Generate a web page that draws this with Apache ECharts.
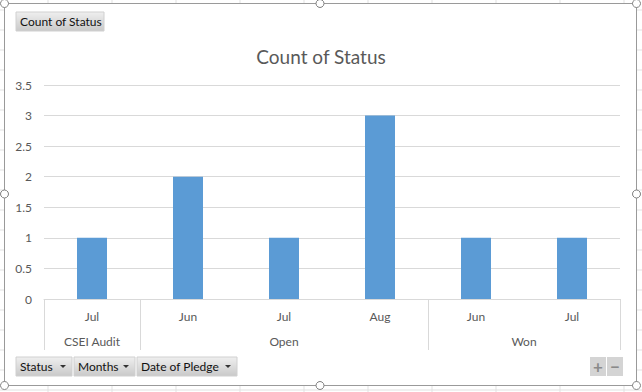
<!DOCTYPE html>
<html><head><meta charset="utf-8">
<script src="https://cdn.jsdelivr.net/npm/echarts@6/dist/echarts.min.js"></script>
<style>html,body{margin:0;padding:0;background:#fff}#c{width:642px;height:392px}</style>
</head><body><div id="c"></div>
<script>
const months = ['Jul', 'Jun', 'Jul', 'Aug', 'Jun', 'Jul'];
const counts = [1, 2, 1, 3, 1, 1];
const groups = ['CSEI Audit', 'Open', 'Won'];
const groupSpans = [1, 3, 2];
const yTicks = [0, 0.5, 1, 1.5, 2, 2.5, 3, 3.5];
const titleText = 'Count of Status';
const fieldButtons = ['Status', 'Months', 'Date of Pledge'];

// group boundaries and centres in category units
const bounds = [0];
groupSpans.forEach(s => bounds.push(bounds[bounds.length - 1] + s));
const centers = groups.map((g, i) => (bounds[i] + bounds[i + 1]) / 2);

const FONT = 'Lato, "Open Sans", sans-serif';
const TXT = '#595959';
const GRID = '#d9d9d9';

const chart = echarts.init(document.getElementById('c'), null, {renderer: 'svg'});

// decorations (sheet grid, chart frame, pivot buttons)
const g = [];
for (let x = 48; x < 642; x += 64) g.push({type: 'line', shape: {x1: x, y1: 0, x2: x, y2: 392}, style: {stroke: '#e1e1e1', lineWidth: 1}, z: -20});
for (let y = 10; y < 392; y += 20) g.push({type: 'line', shape: {x1: 0, y1: y, x2: 642, y2: y}, style: {stroke: '#e1e1e1', lineWidth: 1}, z: -20});
g.push({type: 'rect', shape: {x: 4.5, y: 3.5, width: 632, height: 382}, style: {fill: '#fff', stroke: '#9a9a9a', lineWidth: 1}, z: -10});
const grad = {type: 'linear', x: 0, y: 0, x2: 0, y2: 1, colorStops: [{offset: 0, color: '#efefef'}, {offset: 1, color: '#c9c9c9'}]};
function button(x, y, w, h, label, arrow) {
  g.push({type: 'rect', shape: {x: x, y: y, width: w, height: h}, style: {fill: grad, stroke: '#d0d0d0', lineWidth: 1}, z: 5});
  g.push({type: 'text', x: x + 4, y: y + h / 2, style: {text: label, fill: '#111', font: '12px ' + FONT, verticalAlign: 'middle'}, z: 6});
  if (arrow) g.push({type: 'polygon', shape: {points: [[x + w - 12, y + h / 2 - 1.5], [x + w - 6, y + h / 2 - 1.5], [x + w - 9, y + h / 2 + 1.5]]}, style: {fill: '#333'}, z: 6});
}
button(16, 12, 88, 19, titleText, false);
const bw = [56, 61, 100];
let bx = 16;
fieldButtons.forEach((b, i) => { button(bx, 357, bw[i], 19, b, true); bx += bw[i] + 2; });
g.push({type: 'rect', shape: {x: 590, y: 357, width: 16, height: 19}, style: {fill: '#d4d4d4'}, z: 5});
g.push({type: 'rect', shape: {x: 607, y: 357, width: 16, height: 19}, style: {fill: '#d4d4d4'}, z: 5});
g.push({type: 'text', x: 598, y: 366.5, style: {text: '+', fill: '#8a8a8a', font: 'bold 17px ' + FONT, align: 'center', verticalAlign: 'middle'}, z: 6});
g.push({type: 'text', x: 615, y: 366.5, style: {text: '−', fill: '#8a8a8a', font: 'bold 17px ' + FONT, align: 'center', verticalAlign: 'middle'}, z: 6});
[[4.5, 3.5], [320, 3.5], [636.5, 3.5], [4.5, 194], [636.5, 194], [4.5, 385.5], [320, 385.5], [636.5, 385.5]].forEach(p => {
  g.push({type: 'circle', shape: {cx: p[0], cy: p[1], r: 4}, style: {fill: '#fff', stroke: '#808080', lineWidth: 1}, z: 7});
});

chart.setOption({
  animation: false,
  textStyle: {fontFamily: FONT},
  title: {text: titleText, left: 'center', top: 42, textStyle: {fontSize: 19, fontWeight: 'normal', color: TXT, fontFamily: FONT}},
  grid: {left: 44, right: 22, top: 85, bottom: 93, containLabel: false},
  xAxis: [
    {type: 'category', data: months, position: 'bottom',
     axisLine: {lineStyle: {color: GRID}}, axisTick: {show: false},
     axisLabel: {color: TXT, fontSize: 12, margin: 11, fontFamily: FONT}},
    {type: 'value', min: 0, max: months.length, position: 'bottom',
     axisLine: {show: false}, splitLine: {show: false},
     axisTick: {show: true, customValues: bounds, length: 51, lineStyle: {color: GRID}},
     axisLabel: {customValues: centers, color: TXT, fontSize: 12, margin: 36, fontFamily: FONT,
       formatter: v => { const i = centers.indexOf(v); return i >= 0 ? groups[i] : ''; }}}
  ],
  yAxis: {type: 'value', min: yTicks[0], max: yTicks[yTicks.length - 1], interval: 0.5,
    axisLine: {show: false}, axisTick: {show: false},
    splitLine: {lineStyle: {color: GRID}},
    axisLabel: {color: TXT, fontSize: 12, margin: 12, fontFamily: FONT}},
  series: [{type: 'bar', name: titleText, data: counts, xAxisIndex: 0, barWidth: 30, itemStyle: {color: '#5b9bd5'}}],
  graphic: {elements: g}
});
</script></body></html>
